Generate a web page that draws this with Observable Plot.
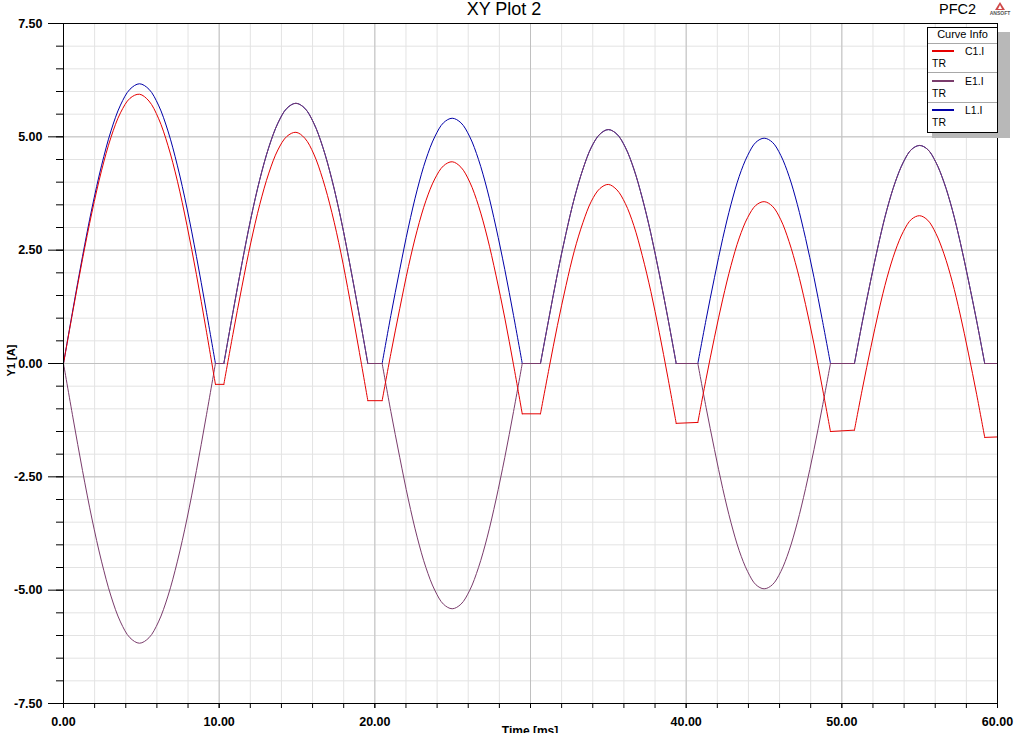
<!DOCTYPE html>
<html><head><meta charset="utf-8">
<script src="https://cdn.jsdelivr.net/npm/d3@7"></script>
<script src="https://cdn.jsdelivr.net/npm/@observablehq/plot@0.6"></script>
<style>
html,body{margin:0;padding:0;background:#fff;}
#wrap{position:relative;width:1020px;height:733px;overflow:hidden;font-family:"Liberation Sans",Arial,sans-serif;color:#000;}
#chart{position:absolute;left:0;top:0;}
.ov{position:absolute;white-space:nowrap;line-height:1;}
#legend{position:absolute;left:927px;top:27px;width:71px;height:106px;box-sizing:border-box;border:1px solid #000;background:#fff;}
#shadow{position:absolute;left:932px;top:32px;width:78px;height:106px;background:#b8b8b8;}
#legend .t{position:absolute;font-size:10.5px;line-height:12px;white-space:nowrap;}
#legend .sw{position:absolute;left:4px;width:22px;height:2px;}
#legend .sep{position:absolute;left:0;width:69px;height:1px;background:#a8a8a8;}
</style></head><body>
<div id="wrap">
  <div id="chart"></div>
  <div class="ov" style="left:404px;width:200px;text-align:center;top:0px;font-size:18px;">XY Plot 2</div>
  <div class="ov" style="left:939px;top:2px;font-size:14.5px;">PFC2</div>
  <svg class="ov" style="left:988px;top:1px" width="28" height="16">
    <polygon points="12,1 7,9 17,9" fill="#d04848"/>
    <polygon points="12,4 10,8 14,8" fill="#ffffff"/>
    <text x="12" y="14" font-size="5" font-weight="bold" text-anchor="middle" fill="#555" font-family="Liberation Sans, Arial, sans-serif">ANSOFT</text>
  </svg>
  <div id="shadow"></div>
  <div id="legend">
    <div class="t" style="left:0;width:69px;text-align:center;top:0px;font-size:11px;">Curve Info</div>
    <div class="sep" style="top:15px"></div>
    <div class="sw" style="top:22px;background:#e60000"></div>
    <div class="t" style="left:37px;top:17px">C1.I</div>
    <div class="t" style="left:4px;top:29px">TR</div>
    <div class="sep" style="top:44px"></div>
    <div class="sw" style="top:52px;background:#7a3c6c"></div>
    <div class="t" style="left:37px;top:47px">E1.I</div>
    <div class="t" style="left:4px;top:59px">TR</div>
    <div class="sep" style="top:74px"></div>
    <div class="sw" style="top:81px;background:#0000a8"></div>
    <div class="t" style="left:37px;top:76px">L1.I</div>
    <div class="t" style="left:4px;top:88px">TR</div>
  </div>
  <div class="ov" style="left:430px;width:200px;text-align:center;top:725px;font-size:12px;font-weight:bold;">Time [ms]</div>
  <div class="ov" style="left:-22px;top:355px;width:66px;text-align:center;font-size:11px;font-weight:bold;transform:rotate(-90deg);">Y1 [A]</div>
</div>
<script>
// time samples [ms]
const timeMs = [
  0, 0.61, 1.22, 1.83, 2.44, 3.05, 3.66, 4.27, 4.88, 5.49, 6.10, 6.71, 7.32, 7.93, 8.54, 9.15, 9.76,
  10.30, 10.88, 11.46, 12.03, 12.61, 13.19, 13.77, 14.35, 14.93, 15.50, 16.08, 16.66, 17.24, 17.82, 18.39, 18.97, 19.55,
  20.47, 21.03, 21.60, 22.16, 22.72, 23.28, 23.85, 24.41, 24.97, 25.53, 26.10, 26.66, 27.22, 27.78, 28.35, 28.91, 29.47,
  30.64, 31.19, 31.73, 32.28, 32.82, 33.37, 33.91, 34.46, 35.00, 35.55, 36.09, 36.64, 37.18, 37.73, 38.27, 38.82, 39.36,
  40.75, 41.28, 41.82, 42.35, 42.88, 43.41, 43.95, 44.48, 45.01, 45.54, 46.08, 46.61, 47.14, 47.67, 48.21, 48.74, 49.27,
  50.81, 51.33, 51.86, 52.38, 52.90, 53.43, 53.95, 54.47, 55.00, 55.52, 56.04, 56.56, 57.09, 57.61, 58.13, 58.66, 59.18,
  60.00
];
// C1.I [A]
const c1I = [
  0, 1.17, 2.30, 3.34, 4.25, 4.99, 5.53, 5.85, 5.94, 5.79, 5.41, 4.81, 4.02, 3.05, 1.96, 0.77, -0.46,
  -0.46, 0.64, 1.69, 2.66, 3.51, 4.20, 4.71, 5.01, 5.10, 4.97, 4.62, 4.06, 3.33, 2.44, 1.42, 0.32, -0.82,
  -0.82, 0.22, 1.21, 2.14, 2.94, 3.59, 4.07, 4.36, 4.45, 4.33, 4.00, 3.48, 2.79, 1.95, 1.00, -0.03, -1.11,
  -1.11, -0.11, 0.84, 1.72, 2.49, 3.11, 3.58, 3.86, 3.95, 3.83, 3.53, 3.04, 2.38, 1.59, 0.69, -0.30, -1.32,
  -1.30, -0.34, 0.58, 1.42, 2.16, 2.77, 3.22, 3.49, 3.57, 3.47, 3.17, 2.69, 2.06, 1.30, 0.43, -0.52, -1.50,
  -1.47, -0.54, 0.35, 1.17, 1.89, 2.48, 2.91, 3.18, 3.26, 3.16, 2.87, 2.42, 1.81, 1.07, 0.23, -0.68, -1.63,
  -1.62
];
// E1.I [A]
const e1I = [
  0, -1.20, -2.36, -3.43, -4.36, -5.13, -5.70, -6.05, -6.17, -6.05, -5.70, -5.13, -4.36, -3.43, -2.36, -1.20, 0,
  0, 1.12, 2.20, 3.19, 4.06, 4.77, 5.30, 5.63, 5.74, 5.63, 5.30, 4.77, 4.06, 3.19, 2.20, 1.12, 0,
  0, -1.06, -2.07, -3.01, -3.83, -4.50, -5.00, -5.31, -5.41, -5.31, -5.00, -4.50, -3.83, -3.01, -2.07, -1.06, 0,
  0, 1.01, 1.98, 2.87, 3.65, 4.29, 4.77, 5.06, 5.16, 5.06, 4.77, 4.29, 3.65, 2.87, 1.98, 1.01, 0,
  0, -0.97, -1.90, -2.76, -3.51, -4.13, -4.59, -4.88, -4.97, -4.88, -4.59, -4.13, -3.51, -2.76, -1.90, -0.97, 0,
  0, 0.94, 1.84, 2.67, 3.40, 4.00, 4.44, 4.72, 4.81, 4.72, 4.44, 4.00, 3.40, 2.67, 1.84, 0.94, 0,
  0
];
// L1.I [A]
const l1I = [
  0, 1.20, 2.36, 3.43, 4.36, 5.13, 5.70, 6.05, 6.17, 6.05, 5.70, 5.13, 4.36, 3.43, 2.36, 1.20, 0,
  0, 1.12, 2.20, 3.19, 4.06, 4.77, 5.30, 5.63, 5.74, 5.63, 5.30, 4.77, 4.06, 3.19, 2.20, 1.12, 0,
  0, 1.06, 2.07, 3.01, 3.83, 4.50, 5.00, 5.31, 5.41, 5.31, 5.00, 4.50, 3.83, 3.01, 2.07, 1.06, 0,
  0, 1.01, 1.98, 2.87, 3.65, 4.29, 4.77, 5.06, 5.16, 5.06, 4.77, 4.29, 3.65, 2.87, 1.98, 1.01, 0,
  0, 0.97, 1.90, 2.76, 3.51, 4.13, 4.59, 4.88, 4.97, 4.88, 4.59, 4.13, 3.51, 2.76, 1.90, 0.97, 0,
  0, 0.94, 1.84, 2.67, 3.40, 4.00, 4.44, 4.72, 4.81, 4.72, 4.44, 4.00, 3.40, 2.67, 1.84, 0.94, 0,
  0
];
const seriesNames = ["C1.I", "E1.I", "L1.I"];
const seriesColors = ["#e60000", "#7a3c6c", "#0000a8"];
const xMajorTicks = [0, 10, 20, 30, 40, 50, 60];
const xTickLabels = ["0.00", "10.00", "20.00", "", "40.00", "50.00", "60.00"];
const xMinorTicks = [0, 2, 4, 6, 8, 10, 12, 14, 16, 18, 20, 22, 24, 26, 28, 30, 32, 34, 36, 38, 40, 42, 44, 46, 48, 50, 52, 54, 56, 58, 60];
const yMajorTicks = [-7.5, -5, -2.5, 0, 2.5, 5, 7.5];
const yTickLabels = ["-7.50", "-5.00", "-2.50", "0.00", "2.50", "5.00", "7.50"];
const yMinorTicks = [-7.5, -7, -6.5, -6, -5.5, -5, -4.5, -4, -3.5, -3, -2.5, -2, -1.5, -1, -0.5, 0, 0.5, 1, 1.5, 2, 2.5, 3, 3.5, 4, 4.5, 5, 5.5, 6, 6.5, 7, 7.5];

// Each conduction hump is 17 consecutive samples; consecutive humps are joined by flat (linear) segments.
const perHump = 17;
const rows = timeMs.map((t, i) => ({t, c1: c1I[i], e1: e1I[i], l1: l1I[i], hump: Math.floor(Math.min(i, timeMs.length - 2) / perHump)}));
const humpRows = rows.slice(0, rows.length - 1).map((r, i) => ({...r, hump: Math.floor(i / perHump)}));
const flatRows = [];
for (let i = perHump - 1; i < rows.length - 1; i += perHump) {
  flatRows.push({...rows[i], gap: i});
  flatRows.push({...rows[i + 1], gap: i});
}

function seriesMarks(key, color) {
  return [
    Plot.line(humpRows, {x: "t", y: key, z: "hump", stroke: color, strokeWidth: 1, curve: "catmull-rom"}),
    Plot.line(flatRows, {x: "t", y: key, z: "gap", stroke: color, strokeWidth: 1})
  ];
}

const chart = Plot.plot({
  width: 1020, height: 733,
  marginLeft: 63, marginRight: 23, marginTop: 23, marginBottom: 30,
  x: {domain: [0, 60]},
  y: {domain: [-7.5, 7.5]},
  style: {fontFamily: '"Liberation Sans", Arial, sans-serif', background: "white", color: "black", overflow: "visible"},
  marks: [
    Plot.gridX(xMinorTicks, {stroke: "#e3e3e3", strokeOpacity: 1}),
    Plot.gridY(yMinorTicks, {stroke: "#e3e3e3", strokeOpacity: 1}),
    Plot.gridX(xMajorTicks, {stroke: "#c0c0c0", strokeOpacity: 1}),
    Plot.gridY(yMajorTicks, {stroke: "#c0c0c0", strokeOpacity: 1}),
    ...seriesMarks("l1", seriesColors[2]),
    ...seriesMarks("e1", seriesColors[1]),
    ...seriesMarks("c1", seriesColors[0]),
    Plot.axisY(yMinorTicks, {tickSize: 7, tickFormat: () => "", label: null, stroke: "black"}),
    Plot.axisY(yMajorTicks, {tickSize: 15, tickPadding: 6, tickFormat: d => yTickLabels[yMajorTicks.indexOf(d)], label: null, fontWeight: "bold", fontSize: 12.5, stroke: "black"}),
    Plot.axisX(xMinorTicks, {tickSize: 5, tickFormat: () => "", label: null, stroke: "black"}),
    Plot.axisX(xMajorTicks, {tickSize: 5, tickPadding: 9, tickFormat: d => xTickLabels[xMajorTicks.indexOf(d)], label: null, fontWeight: "bold", fontSize: 12.5, stroke: "black"}),
    Plot.frame({stroke: "black", strokeWidth: 1})
  ]
});
document.getElementById("chart").appendChild(chart);
</script>
</body></html>
